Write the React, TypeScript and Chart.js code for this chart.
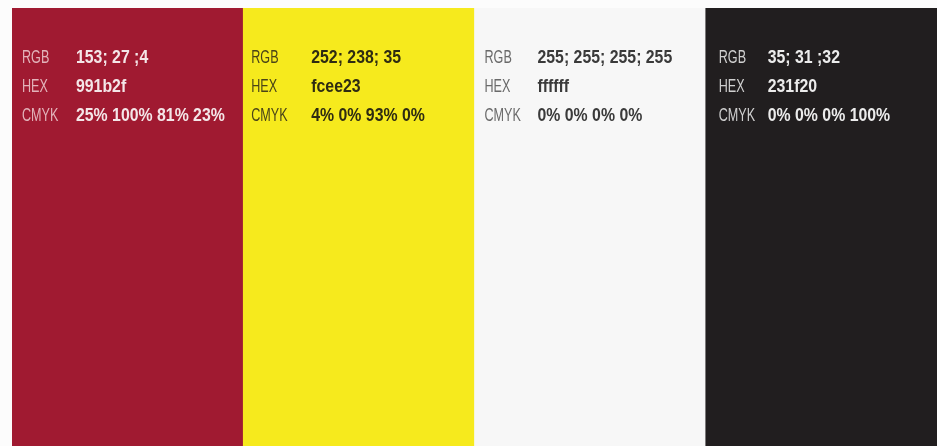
import React, { useEffect, useRef } from "react";
import { Chart, registerables } from "chart.js";

Chart.register(...registerables);

const swatchNames = ["Red", "Yellow", "White", "Black"];
const swatchHeights = [1, 1, 1, 1];
const swatchColors = ["#a01a31", "#f6ea1d", "#f7f7f7", "#211e1f"];
const rowLabels = ["RGB", "HEX", "CMYK"];
const rgbValues = ["153; 27 ;4", "252; 238; 35", "255; 255; 255; 255", "35; 31 ;32"];
const hexValues = ["991b2f", "fcee23", "ffffff", "231f20"];
const cmykValues = ["25% 100% 81% 23%", "4% 0% 93% 0%", "0% 0% 0% 0%", "0% 0% 0% 100%"];

const labelColors = ["#e2b3ba", "#4a4418", "#6a6a6a", "#cfcfcf"];
const valueColors = ["#f4e6e8", "#2e2b12", "#3a3a3a", "#ececec"];
const labelOffsets = [10, 8, 10, 13];
const valueOffsets = [64, 68, 63, 62];

function drawScaled(ctx: CanvasRenderingContext2D, text: string, x: number, y: number, sx: number) {
  ctx.save();
  ctx.translate(x, y);
  ctx.scale(sx, 1);
  ctx.fillText(text, 0, 0);
  ctx.restore();
}

const textPlugin = {
  id: "swatchText",
  afterDatasetsDraw(chart: any) {
    const meta = chart.getDatasetMeta(0);
    const ctx = chart.ctx;
    const top = chart.chartArea.top;
    const rowY = [55, 84, 113];
    const rows = [rgbValues, hexValues, cmykValues];
    ctx.save();
    ctx.textBaseline = "alphabetic";
    meta.data.forEach((bar: any, i: number) => {
      const left = bar.x - bar.width / 2;
      rowLabels.forEach((lab, r) => {
        ctx.font = "18px 'Liberation Sans', Arial, sans-serif";
        ctx.fillStyle = labelColors[i];
        drawScaled(ctx, lab, left + labelOffsets[i], top + rowY[r], 0.7);
        ctx.font = "bold 18px 'Liberation Sans', Arial, sans-serif";
        ctx.fillStyle = valueColors[i];
        drawScaled(ctx, rows[r][i], left + valueOffsets[i], top + rowY[r], 0.88);
      });
    });
    ctx.restore();
  },
};

export default function App() {
  const ref = useRef<HTMLCanvasElement | null>(null);
  useEffect(() => {
    if (!ref.current) return;
    const chart = new Chart(ref.current, {
      type: "bar",
      data: {
        labels: swatchNames,
        datasets: [
          {
            data: swatchHeights,
            backgroundColor: swatchColors,
            borderWidth: 0,
            barPercentage: 1,
            categoryPercentage: 1,
          },
        ],
      },
      options: {
        animation: false,
        responsive: false,
        layout: { padding: { left: 12, top: 8, right: 0, bottom: 0 } },
        plugins: { legend: { display: false }, tooltip: { enabled: false } },
        scales: {
          x: { display: false, offset: true },
          y: { display: false, min: 0, max: 1 },
        },
      },
      plugins: [textPlugin],
    });
    return () => chart.destroy();
  }, []);
  return (
    <div style={{ position: "fixed", left: 0, top: 0, width: 937, height: 446, background: "#fcfcfc" }}>
      <canvas ref={ref} width={937} height={446} style={{ display: "block" }} />
    </div>
  );
}
